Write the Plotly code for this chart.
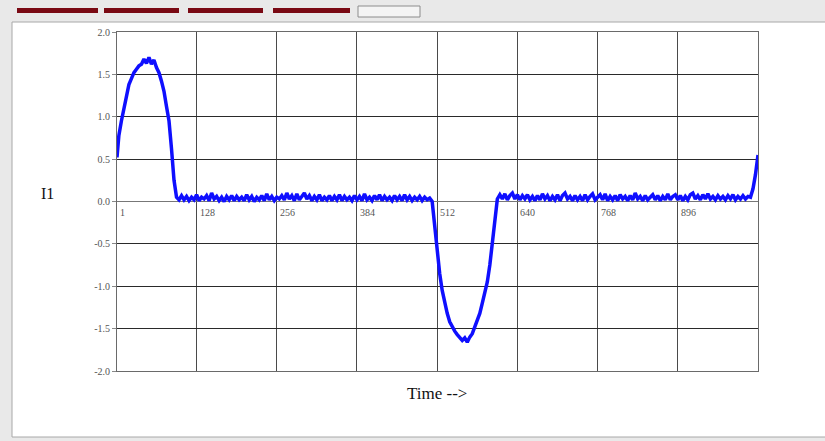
import plotly.graph_objects as go

# ---------------- data ----------------
hump = [0.52, 0.78, 0.95, 1.10, 1.25, 1.38, 1.45, 1.52, 1.56, 1.60,
        1.62, 1.68, 1.63, 1.70, 1.62, 1.67, 1.58, 1.52, 1.42, 1.30,
        1.12, 0.95, 0.62, 0.25, 0.05, 0.02]
flat1 = [0.07, 0.02, 0.06, 0.01, 0.05, 0.02, 0.08, 0.01, 0.05, 0.03,
         0.07, 0.01, 0.10, 0.03, 0.06, 0.01, 0.05, 0.00, 0.06, 0.02,
         0.07, 0.01, 0.06, 0.02, 0.05, 0.01, 0.08, 0.02, 0.06, 0.00,
         0.05, 0.02, 0.07, 0.01, 0.09, 0.02, 0.06, 0.01, 0.05, 0.03,
         0.07, 0.02, 0.10, 0.03, 0.07, 0.01, 0.09, 0.02, 0.06, 0.10,
         0.03, 0.07, 0.01, 0.06, 0.02, 0.08, 0.01, 0.05, 0.02, 0.07,
         0.01, 0.06, 0.02, 0.08, 0.01, 0.06, 0.02, 0.05, 0.01, 0.07,
         0.02, 0.06, 0.01, 0.09, 0.02, 0.05, 0.01, 0.07, 0.02, 0.08,
         0.01, 0.06, 0.02, 0.05, 0.01, 0.07, 0.02, 0.06, 0.01, 0.08,
         0.02, 0.06, 0.01, 0.05, 0.02, 0.06, 0.01, 0.05, 0.02, 0.04]
dip = [0.00, -0.30, -0.62, -0.85, -1.05, -1.20, -1.32, -1.42, -1.48, -1.53,
       -1.57, -1.60, -1.64, -1.61, -1.66, -1.60, -1.56, -1.48, -1.40, -1.32,
       -1.20, -1.06, -0.95, -0.75, -0.50, -0.20, 0.03]
flat2 = [0.08, 0.03, 0.09, 0.02, 0.07, 0.10, 0.03, 0.08, 0.02, 0.07,
         0.03, 0.08, 0.02, 0.06, 0.01, 0.07, 0.02, 0.09, 0.03, 0.07,
         0.01, 0.06, 0.02, 0.08, 0.01, 0.07, 0.10, 0.03, 0.06, 0.01,
         0.07, 0.02, 0.06, 0.01, 0.08, 0.02, 0.06, 0.09, 0.02, 0.05,
         0.08, 0.02, 0.09, 0.01, 0.06, 0.02, 0.07, 0.01, 0.08, 0.03,
         0.06, 0.01, 0.07, 0.02, 0.10, 0.03, 0.06, 0.01, 0.07, 0.02,
         0.05, 0.08, 0.02, 0.07, 0.01, 0.06, 0.02, 0.09, 0.02, 0.06,
         0.08, 0.02, 0.07, 0.01, 0.06, 0.02, 0.08, 0.10, 0.03, 0.07,
         0.02, 0.08, 0.03, 0.09, 0.03, 0.06, 0.02, 0.07, 0.03, 0.06,
         0.02, 0.07, 0.03, 0.08, 0.02, 0.06, 0.03, 0.07, 0.03, 0.06,
         0.05]
tail = [0.15, 0.32, 0.55]

i1_values = hump + flat1 + dip + flat2 + tail
sample_step = 4
time_index = [max(1, sample_step * k) for k in range(len(i1_values))]

x_ticks = [1, 128, 256, 384, 512, 640, 768, 896]
x_tick_labels = ["1", "128", "256", "384", "512", "640", "768", "896"]
y_ticks = [-2.0, -1.5, -1.0, -0.5, 0.0, 0.5, 1.0, 1.5, 2.0]
y_tick_labels = ["-2.0", "-1.5", "-1.0", "-0.5", "0.0", "0.5", "1.0", "1.5", "2.0"]

# ---------------- layout geometry ----------------
W, H = 825, 441
L, R, T, B = 117, 758, 32, 371


def px(x):
    return (x - L) / (R - L)


def py(y):
    return (B - y) / (B - T)


serif = "Liberation Serif"

fig = go.Figure()
fig.add_trace(go.Scatter(
    x=time_index, y=i1_values, mode="lines",
    line=dict(color="#0f0fff", width=3.5),
    hoverinfo="skip", showlegend=False,
))

shapes = []
# white panel
shapes.append(dict(type="rect", xref="paper", yref="paper", layer="below",
                   x0=px(12), x1=px(830), y0=py(437), y1=py(22),
                   fillcolor="white", line=dict(color="#a8a8a8", width=1)))
# dark red buttons at the top
for x0, x1 in [(17, 98), (104, 179), (188, 263), (273, 350)]:
    shapes.append(dict(type="rect", xref="paper", yref="paper", layer="below",
                       x0=px(x0), x1=px(x1), y0=py(13), y1=py(8),
                       fillcolor="#7a0a14", line=dict(width=0)))
# light button
shapes.append(dict(type="rect", xref="paper", yref="paper", layer="below",
                   x0=px(358), x1=px(420), y0=py(17), y1=py(6),
                   fillcolor="#f4f4f4", line=dict(color="#8c8c8c", width=1)))

annotations = []
for v, lab in zip(x_ticks, x_tick_labels):
    annotations.append(dict(x=v, y=0, xref="x", yref="y", text=lab,
                            showarrow=False, xanchor="left", yanchor="top",
                            xshift=1, yshift=-3,
                            font=dict(family=serif, size=10, color="#555555")))
annotations.append(dict(x=px(47), y=py(193), xref="paper", yref="paper",
                        text="I1", showarrow=False,
                        xanchor="center", yanchor="middle",
                        font=dict(family=serif, size=16, color="#111111")))
annotations.append(dict(x=px(437), y=py(393), xref="paper", yref="paper",
                        text="Time -->", showarrow=False,
                        xanchor="center", yanchor="middle",
                        font=dict(family=serif, size=17, color="#111111")))

fig.update_layout(
    width=W, height=H,
    margin=dict(l=L, r=W - R, t=T, b=H - B, pad=0),
    paper_bgcolor="#e9e9e9",
    plot_bgcolor="white",
    shapes=shapes,
    annotations=annotations,
    xaxis=dict(range=[1, 1024], tickmode="array", tickvals=x_ticks,
               showticklabels=False, showgrid=True, gridcolor="#4a4a4a",
               gridwidth=1, zeroline=False, showline=True,
               linecolor="#6a6a6a", linewidth=1, mirror=True, ticks=""),
    yaxis=dict(range=[-2.0, 2.0], tickmode="array", tickvals=y_ticks,
               ticktext=y_tick_labels, showgrid=True, gridcolor="#2a2a2a",
               gridwidth=1, zeroline=True, zerolinecolor="#777777",
               zerolinewidth=1, showline=True, linecolor="#6a6a6a",
               linewidth=1, mirror=True, ticks="outside", ticklen=4,
               tickcolor="#888888",
               tickfont=dict(family=serif, size=10, color="#555555")),
)

fig.write_html(
    "out.html",
    config={"displayModeBar": False},
    post_script="document.body.style.margin='0';document.body.style.padding='0';"
                "document.body.style.overflow='hidden';",
)
